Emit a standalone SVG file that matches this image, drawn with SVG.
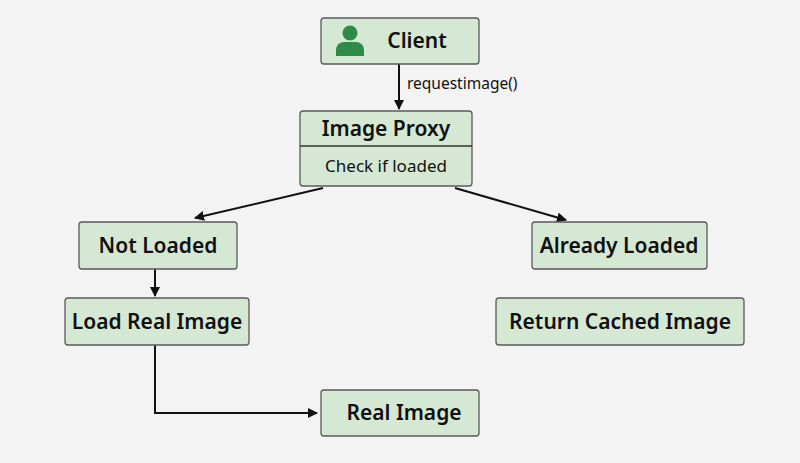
<svg xmlns="http://www.w3.org/2000/svg" width="800" height="463" viewBox="0 0 800 463">
<style>
.b{fill:#d5e8d4;stroke:#5a5a5a;stroke-width:1.3}
.t{font-family:"Noto Sans",sans-serif;font-size:21px;font-weight:600;fill:#111;text-anchor:middle}
.s{font-family:"Noto Sans",sans-serif;font-size:17px;fill:#111;text-anchor:middle}
.c{stroke:#111;stroke-width:2;fill:none;marker-end:url(#a)}
</style>
<defs><marker id="a" viewBox="0 0 10 10" refX="9" refY="5" markerWidth="5" markerHeight="5" orient="auto"><path d="M0,0L10,5L0,10z" fill="#111"/></marker></defs>
<rect width="800" height="463" fill="#f3f3f3"/>
<g id="connectors">
<path class="c" d="M399,64V109"/>
<text x="407" y="89" font-family="Noto Sans,sans-serif" font-size="15.5" fill="#111">requestimage()</text>
<path class="c" d="M323,188L195,218"/>
<path class="c" d="M455,188L566,220"/>
<path class="c" d="M155,269V296"/>
<path class="c" d="M155,345V413H317"/>
</g>
<g id="client"><rect class="b" x="321" y="18" width="158" height="46" rx="3"/>
<circle cx="350" cy="33" r="7.5" fill="#2e8b47"/><path d="M336,56v-6a8,8 0 0 1 8,-8h12a8,8 0 0 1 8,8v6z" fill="#2e8b47"/>
<text class="t" x="417" y="48">Client</text></g>
<g id="proxy"><rect class="b" x="300" y="111" width="172" height="75" rx="3"/><line x1="300" y1="146" x2="472" y2="146" stroke="#333" stroke-width="1.3"/>
<text class="t" x="386" y="136">Image Proxy</text><text class="s" x="386" y="172">Check if loaded</text></g>
<g id="notloaded"><rect class="b" x="79" y="222" width="158" height="47" rx="3"/><text class="t" x="158" y="253">Not Loaded</text></g>
<g id="already"><rect class="b" x="532" y="222" width="175" height="47" rx="3"/><text class="t" x="619" y="253">Already Loaded</text></g>
<g id="loadreal"><rect class="b" x="65" y="298" width="184" height="47" rx="3"/><text class="t" x="157" y="329">Load Real Image</text></g>
<g id="cached"><rect class="b" x="496" y="298" width="248" height="47" rx="3"/><text class="t" x="620" y="329">Return Cached Image</text></g>
<g id="realimage"><rect class="b" x="321" y="390" width="158" height="46" rx="3"/><text class="t" x="404" y="420">Real Image</text></g>
</svg>
